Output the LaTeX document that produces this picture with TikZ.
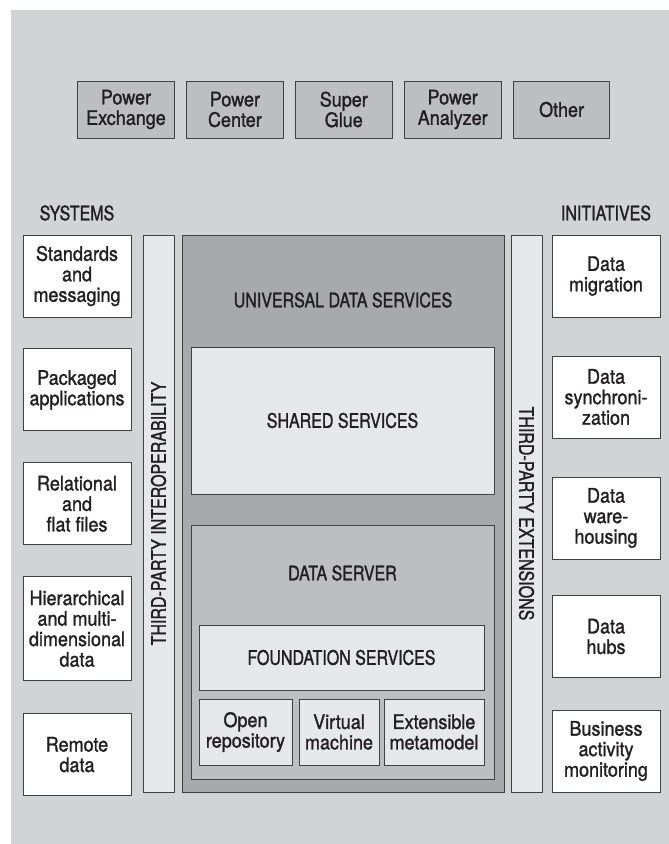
\documentclass[tikz,border=0pt]{standalone}
\usepackage{fontspec}
\setmainfont{TeX Gyre Heros}[FakeStretch=0.9, FakeBold=1.3]
\newfontfamily\capsfont{TeX Gyre Heros}[FakeStretch=0.8, FakeBold=1.3]
\usetikzlibrary{positioning}
\definecolor{bgc}{HTML}{D1D3D4}
\definecolor{midc}{HTML}{BCBEC0}
\definecolor{darkc}{HTML}{A7A9AC}
\definecolor{litec}{HTML}{E6E7E8}
\definecolor{linec}{HTML}{414042}
\definecolor{txtc}{HTML}{231F20}

\begin{document}
\begin{tikzpicture}[x=1pt, y=-1pt,
  box/.style={draw=linec, line width=0.9pt, text=txtc, align=center, inner sep=1pt, font=\fontsize{20}{20.5}\selectfont},
  caps/.style={text=txtc, inner sep=1pt, font=\capsfont\fontsize{20}{20.5}\selectfont},
  tool/.style={box, fill=midc, minimum width=96.5pt, minimum height=57pt},
  sys/.style={box, fill=white, minimum width=108pt, minimum height=82pt},
  bar/.style={box, caps, fill=litec, minimum width=557pt, minimum height=31pt},
  layer/.style={box, caps, minimum width=303pt}]
\useasboundingbox (0,0) rectangle (669,844);
\fill[bgc] (11,10) rectangle (669,844);

\node[tool] (pexch) at (126,109.5) {Power\\Exchange};
\node[tool, right=11.5pt of pexch] (pcent) {Power\\Center};
\node[tool, right=11.5pt of pcent] (sglue) {Super\\Glue};
\node[tool, right=11.5pt of sglue] (panal) {Power\\Analyzer};
\node[tool, right=11.5pt of panal] (other) {Other};

\node[caps] (systems) at (77,213) {SYSTEMS};
\node[caps] (initiatives) at (606,213) {INITIATIVES};

\node[sys] (stdmsg) at (77,276) {Standards\\and\\messaging};
\node[sys, below=31pt of stdmsg] (pkgapp) {Packaged\\applications};
\node[sys, below=31pt of pkgapp] (relflat) {Relational\\and\\flat files};
\node[sys, below=31pt of relflat, minimum height=104pt] (hierdata) {Hierarchical\\and multi-\\dimensional\\data};
\node[sys, below=32pt of hierdata] (remote) {Remote\\data};

\node[sys] (migr) at (606,276) {Data\\migration};
\node[sys] (sync) at (606,397) {Data\\synchroni-\\zation};
\node[sys] (wareh) at (606,518) {Data\\ware-\\housing};
\node[sys] (hubs) at (606,636.5) {Data\\hubs};
\node[sys] (bam) at (606,751) {Business\\activity\\monitoring};

\node[bar, rotate=90] (interop) at (158.5,513.5) {THIRD-PARTY INTEROPERABILITY};
\node[bar, rotate=-90] (ext) at (526.5,513.5) {THIRD-PARTY EXTENSIONS};

\node[box, fill=darkc, minimum width=322pt, minimum height=557pt] (uds) at (343,513.5) {};
\node[caps] (udstitle) at (343,300) {UNIVERSAL DATA SERVICES};
\node[layer, fill=litec, minimum height=147pt] (shared) at (342.5,420.5) {SHARED SERVICES};
\node[layer, fill=midc, minimum height=254pt] (dserver) at (342.5,652) {};
\node[caps] (dstitle) at (342.5,573) {DATA SERVER};
\node[box, caps, fill=litec, minimum width=285pt, minimum height=65pt] (found) at (341.5,657.5) {FOUNDATION SERVICES};
\node[box, fill=litec, minimum width=93pt, minimum height=66pt] (openrep) at (245.5,732) {Open\\repository};
\node[box, fill=litec, minimum width=80pt, minimum height=66pt] (vmach) at (339,732) {Virtual\\machine};
\node[box, fill=litec, minimum width=100pt, minimum height=66pt] (extmeta) at (434,732) {Extensible\\metamodel};
\end{tikzpicture}
\end{document}
